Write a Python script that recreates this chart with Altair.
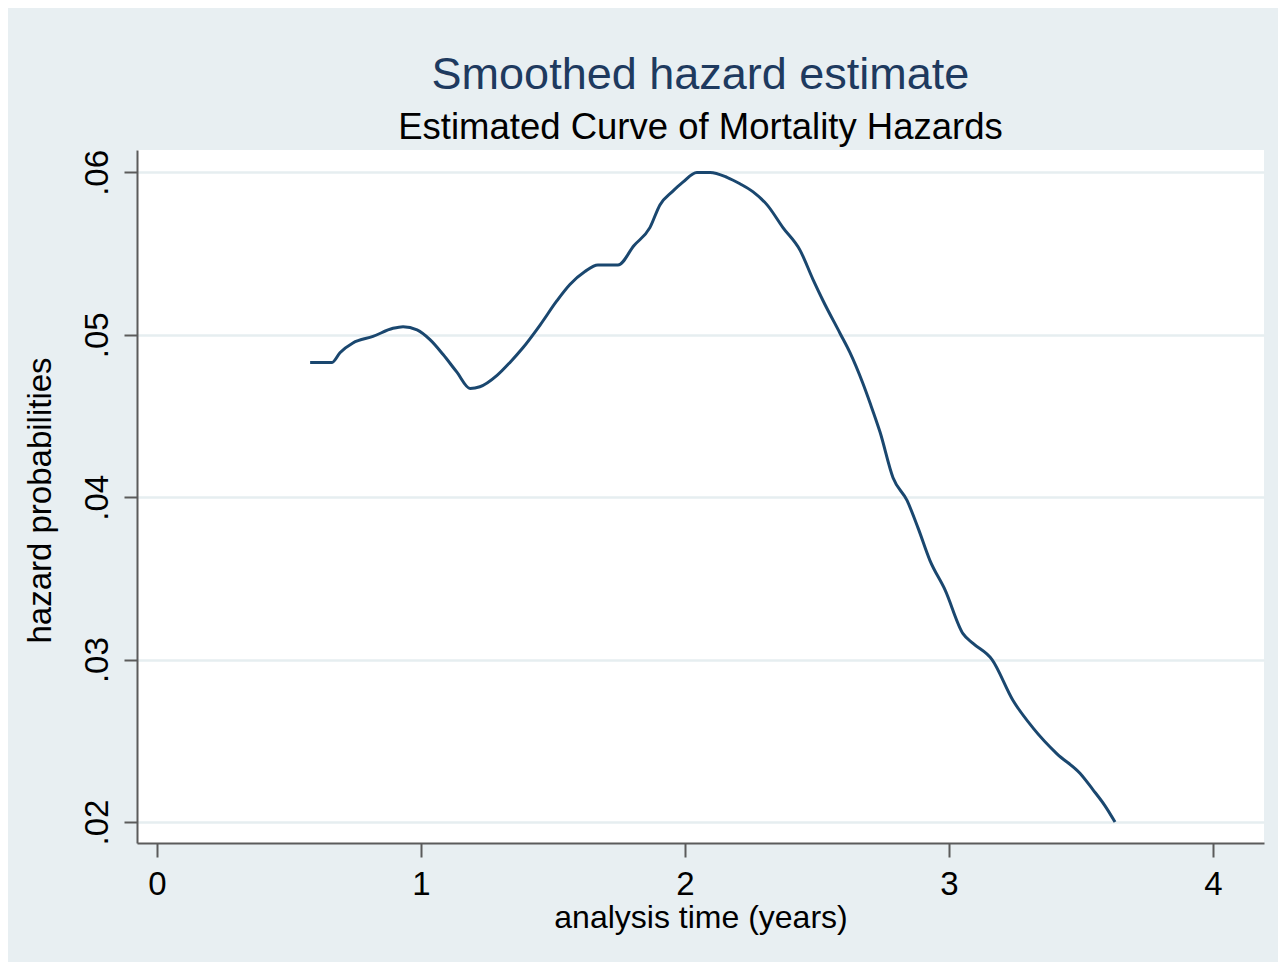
import altair as alt
import pandas as pd

# analysis time (years) and smoothed hazard
time_years = [0.580, 0.663, 0.693, 0.742, 0.818, 0.894, 0.932, 0.985, 1.034, 1.083,
              1.136, 1.186, 1.223, 1.288, 1.337, 1.386, 1.451, 1.515, 1.564, 1.621,
              1.670, 1.746, 1.807, 1.867, 1.905, 1.951, 1.992, 2.045, 2.095, 2.159,
              2.208, 2.258, 2.311, 2.371, 2.436, 2.485, 2.523, 2.587, 2.625, 2.674,
              2.701, 2.739, 2.788, 2.841, 2.883, 2.928, 2.985, 3.053, 3.091, 3.163,
              3.242, 3.318, 3.409, 3.496, 3.545, 3.591, 3.629]
hazard = [0.0483, 0.0483, 0.0489, 0.0495, 0.0499, 0.0504, 0.0505, 0.0503, 0.0497, 0.0488,
          0.0477, 0.0467, 0.0468, 0.0475, 0.0483, 0.0492, 0.0506, 0.0521, 0.0531, 0.0539,
          0.0543, 0.0543, 0.0555, 0.0566, 0.0580, 0.0588, 0.0594, 0.0600, 0.0600, 0.0597,
          0.0593, 0.0588, 0.0580, 0.0566, 0.0552, 0.0534, 0.0521, 0.0501, 0.0489, 0.0470,
          0.0458, 0.0440, 0.0412, 0.0398, 0.0381, 0.0361, 0.0343, 0.0316, 0.0310, 0.0300,
          0.0275, 0.0258, 0.0242, 0.0230, 0.0220, 0.0210, 0.0200]

x_ticks = [0, 1, 2, 3, 4]
y_ticks = [0.02, 0.03, 0.04, 0.05, 0.06]

df = pd.DataFrame({"t": time_years, "h": hazard})

FONT = "Liberation Sans"
AXIS_GRAY = "#5b5b5b"

chart = alt.Chart(df).mark_line(
    color="#1A476F", strokeWidth=3, interpolate="monotone"
).encode(
    x=alt.X(
        "t:Q",
        scale=alt.Scale(domain=[-0.0758, 4.1932], nice=False, zero=False),
        axis=alt.Axis(
            values=x_ticks, format="d", title="analysis time (years)",
            grid=False, domainColor=AXIS_GRAY, domainWidth=2,
            tickColor=AXIS_GRAY, tickWidth=2, tickSize=14,
            labelFont=FONT, labelFontSize=33, labelColor="#000000", labelPadding=11,
            titleFont=FONT, titleFontSize=32, titleFontWeight="normal",
            titleColor="#000000", titlePadding=1,
        ),
    ),
    y=alt.Y(
        "h:Q",
        scale=alt.Scale(domain=[0.01871, 0.06138], nice=False, zero=False),
        axis=alt.Axis(
            values=y_ticks, labelExpr="substring(format(datum.value, '.2f'), 1)",
            title="hazard probabilities",
            grid=True, gridColor="#E6EEF0", gridWidth=2.5,
            domainColor=AXIS_GRAY, domainWidth=2,
            tickColor=AXIS_GRAY, tickWidth=2, tickSize=13,
            labelFont=FONT, labelFontSize=33, labelColor="#000000", labelPadding=10,
            labelAngle=270, labelAlign="center", labelBaseline="bottom",
            titleFont=FONT, titleFontSize=33, titleFontWeight="normal",
            titleColor="#000000", titlePadding=24, titleY=350,
        ),
    ),
).properties(
    width=1127,
    height=693,
    autosize=alt.AutoSizeParams(type="none"),
    padding={"left": 129, "top": 142, "right": 14, "bottom": 119},
    background="#E8EFF2",
    title=alt.TitleParams(
        text="Smoothed hazard estimate",
        subtitle="Estimated Curve of Mortality Hazards",
        anchor="middle",
        font=FONT, fontSize=45, fontWeight="normal", color="#1E3A5F",
        subtitleFont=FONT, subtitleFontSize=36.5, subtitleColor="#000000",
        subtitlePadding=12, offset=3,
    ),
).configure_view(
    fill="#FFFFFF", strokeWidth=0
)

chart.save("out.html", embed_options={"renderer": "svg", "actions": False})
